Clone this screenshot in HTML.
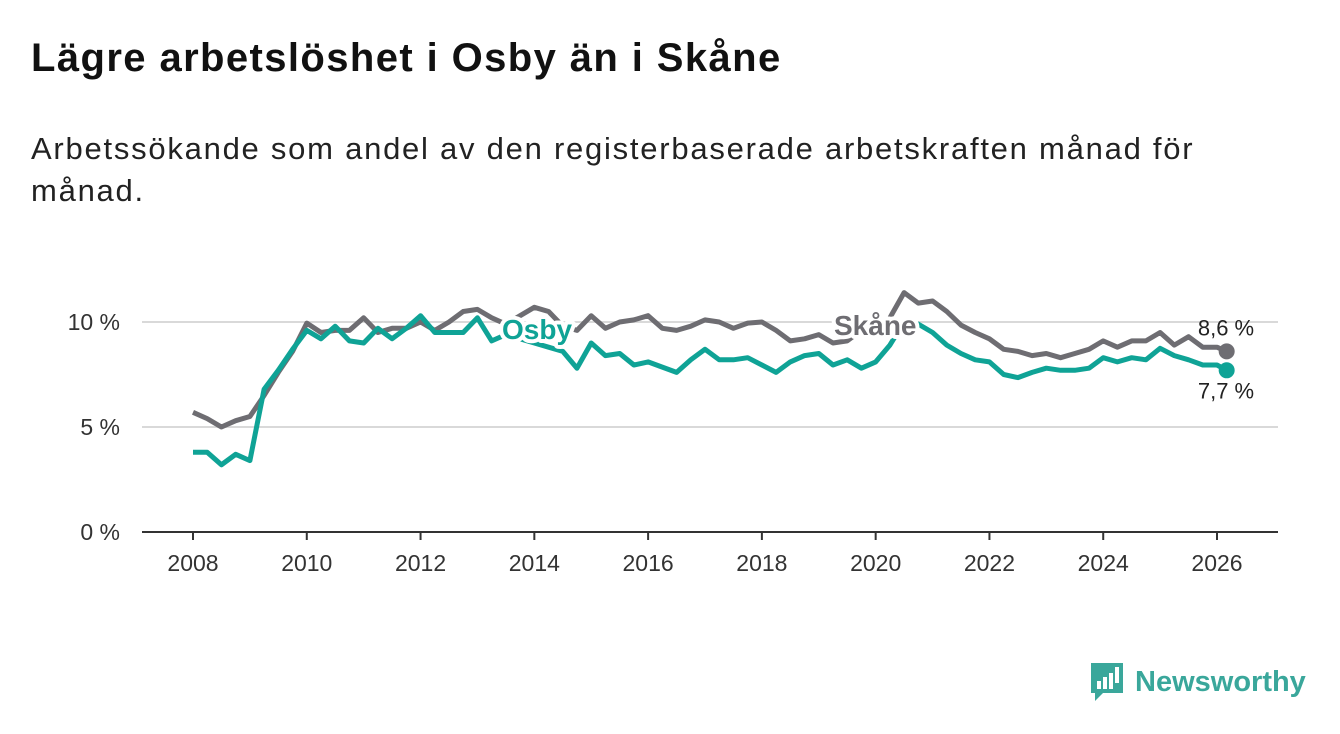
<!DOCTYPE html>
<html><head><meta charset="utf-8"><style>
body{margin:0;width:1340px;height:734px;background:#fff;font-family:"Liberation Sans",sans-serif;overflow:hidden;position:relative}
h1{position:absolute;left:31px;top:36px;margin:0;font-size:40px;letter-spacing:1.4px;font-weight:bold;color:#111}
p{position:absolute;left:31px;top:128px;margin:0;font-size:31px;letter-spacing:1.75px;line-height:42px;color:#222;width:1220px}
</style></head><body>
<h1>Lägre arbetslöshet i Osby än i Skåne</h1>
<p>Arbetssökande som andel av den registerbaserade arbetskraften månad för månad.</p>
<svg id="chart" width="1340" height="734" style="position:absolute;left:0;top:0"></svg>
<script>
const years=[2008,2008.25,2008.5,2008.75,2009,2009.25,2009.5,2009.75,2010,2010.25,2010.5,2010.75,2011,2011.25,2011.5,2011.75,2012,2012.25,2012.5,2012.75,2013,2013.25,2013.5,2013.75,2014,2014.25,2014.5,2014.75,2015,2015.25,2015.5,2015.75,2016,2016.25,2016.5,2016.75,2017,2017.25,2017.5,2017.75,2018,2018.25,2018.5,2018.75,2019,2019.25,2019.5,2019.75,2020,2020.25,2020.5,2020.75,2021,2021.25,2021.5,2021.75,2022,2022.25,2022.5,2022.75,2023,2023.25,2023.5,2023.75,2024,2024.25,2024.5,2024.75,2025,2025.25,2025.5,2025.75,2026,2026.17];
const skane=[5.7,5.4,5.0,5.3,5.5,6.5,7.6,8.6,9.95,9.5,9.6,9.6,10.2,9.5,9.7,9.7,10.0,9.6,10.0,10.5,10.6,10.2,9.9,10.3,10.7,10.5,9.8,9.6,10.3,9.7,10.0,10.1,10.3,9.7,9.6,9.8,10.1,10.0,9.7,9.95,10.0,9.6,9.1,9.2,9.4,9.0,9.1,9.6,9.7,10.2,11.4,10.9,11.0,10.5,9.85,9.5,9.2,8.7,8.6,8.4,8.5,8.3,8.5,8.7,9.1,8.8,9.1,9.1,9.5,8.9,9.3,8.8,8.8,8.6];
const osby=[3.8,3.8,3.2,3.7,3.4,6.8,7.7,8.7,9.6,9.2,9.8,9.1,9.0,9.7,9.2,9.7,10.3,9.5,9.5,9.5,10.2,9.1,9.4,9.2,9.0,8.8,8.6,7.8,9.0,8.4,8.5,7.95,8.1,7.85,7.6,8.2,8.7,8.2,8.2,8.3,7.95,7.6,8.1,8.4,8.5,7.95,8.2,7.8,8.1,8.9,10.0,9.9,9.5,8.9,8.5,8.2,8.1,7.5,7.35,7.6,7.8,7.7,7.7,7.8,8.3,8.1,8.3,8.2,8.75,8.4,8.2,7.95,7.95,7.7];
const xTicks=[2008,2010,2012,2014,2016,2018,2020,2022,2024,2026];
const yTicks=[0,5,10];
const NS="http://www.w3.org/2000/svg",svg=document.getElementById('chart');
const X=v=>193+(v-2008)*(1024/18), Y=v=>532-v*21;
function mk(t,a,txt){const e=document.createElementNS(NS,t);for(const k in a)e.setAttribute(k,a[k]);if(txt!=null)e.textContent=txt;svg.appendChild(e);return e;}
yTicks.forEach(t=>{
 if(t>0){const g=mk('line',{x1:142,x2:1278,y1:Y(t),y2:Y(t),stroke:'#d9d9d9','stroke-width':2});
 
 }
 const l=mk('text',{x:120,y:Y(t)+8,'text-anchor':'end','font-size':23,fill:'#333'},t+' %');
 
 
});
const ax=mk('line',{x1:142,x2:1278,y1:532,y2:532,stroke:'#333','stroke-width':2});


xTicks.forEach(t=>{
 const tk=mk('line',{x1:X(t),x2:X(t),y1:532,y2:540,stroke:'#333','stroke-width':2});
 
 
 const l=mk('text',{x:X(t),y:571,'text-anchor':'middle','font-size':23,fill:'#333'},t);
 
 
});
function line(vals,col,name){
 const d=vals.map((v,i)=>(i?'L':'M')+X(years[i]).toFixed(1)+','+Y(v).toFixed(1)).join('');
 const p=mk('path',{d:d,fill:'none',stroke:col,'stroke-width':5,'stroke-linejoin':'round'});
 
 
 const n=vals.length-1;
 const c=mk('circle',{cx:X(years[n]),cy:Y(vals[n]),r:8,fill:col});
 
 
}
line(skane,'#6e6d72','skane');
line(osby,'#0fa396','osby');
function lab(x,y,txt,col,name){
 const t=mk('text',{x:x,y:y,'font-size':28,'font-weight':'bold',fill:col,stroke:'#fff','stroke-width':8,'paint-order':'stroke','stroke-linejoin':'round'},txt);
 
 
}
lab(502,339,'Osby','#0fa396','osby-series-label');
lab(834,335,'Skåne','#6e6d72','skane-series-label');
const n=years.length-1;
const e1=mk('text',{x:1226,y:Y(skane[n])-16,'text-anchor':'middle','font-size':22,fill:'#222'},'8,6 %');


const e2=mk('text',{x:1226,y:Y(osby[n])+28,'text-anchor':'middle','font-size':22,fill:'#222'},'7,7 %');


</script>
<div style="position:absolute;left:1089px;top:661px;display:flex;align-items:center">
<svg width="36" height="42"><path d="M2 2h32v30H14l-8 8v-8H2z" fill="#3aa79b"/><rect x="8" y="20" width="4" height="8" fill="#fff"/><rect x="14" y="16" width="4" height="12" fill="#fff"/><rect x="20" y="12" width="4" height="16" fill="#fff"/><rect x="26" y="6" width="4" height="16" fill="#fff"/></svg>
<span style="font-size:29px;font-weight:bold;color:#3aa79b;margin-left:10px">Newsworthy</span></div>
</body></html>
